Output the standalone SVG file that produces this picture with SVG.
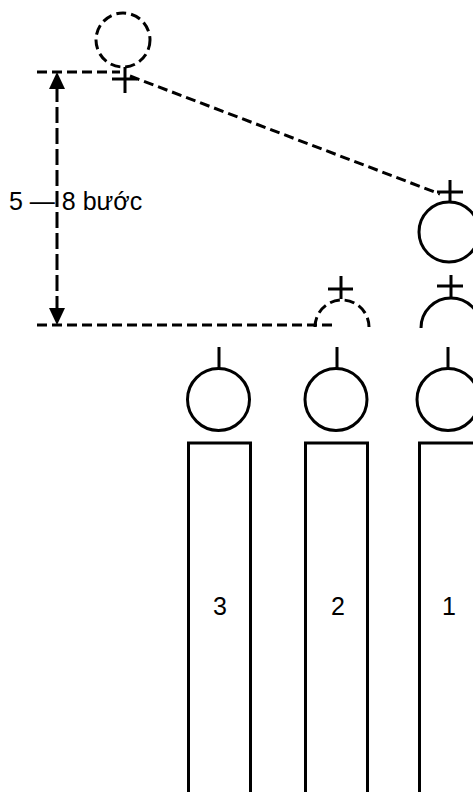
<svg xmlns="http://www.w3.org/2000/svg" width="473" height="792" viewBox="0 0 473 792">
<defs>
<style>
.s{fill:none;stroke:#000;stroke-width:3}
.d{fill:none;stroke:#000;stroke-width:3;stroke-dasharray:10 5}
.dv{fill:none;stroke:#000;stroke-width:3;stroke-dasharray:16 5}
.t{font-family:"Liberation Sans",Arial,sans-serif;font-size:25px;fill:#000}
</style>
</defs>
<rect width="473" height="792" fill="#fff"/>
<g id="connectors">
<line class="d" x1="37" y1="72" x2="120" y2="72"/>
<line class="d" x1="37" y1="325" x2="333" y2="325"/>
<line class="d" x1="130" y1="76" x2="440" y2="194"/>
<line class="dv" x1="57" y1="86" x2="57" y2="310"/>
<polygon points="57,72 49,89 65,89" fill="#000"/>
<polygon points="57,325 49,308 65,308" fill="#000"/>
</g>
<g id="label">
<text class="t" x="9" y="210">5 — 8 bước</text>
</g>
<g id="figure-top">
<circle class="d" cx="123" cy="40" r="27"/>
<line class="s" x1="125" y1="67" x2="125" y2="93"/>
<line class="s" x1="112" y1="79" x2="137" y2="79"/>
</g>
<g id="figure-1a">
<circle class="s" cx="449" cy="232" r="30"/>
<line class="s" x1="450" y1="180" x2="450" y2="202"/>
<line class="s" x1="437" y1="192" x2="463" y2="192"/>
</g>
<g id="figure-1b">
<path class="s" d="M421,328 A30,30 0 0 1 481,328"/>
<line class="s" x1="451" y1="275" x2="451" y2="298"/>
<line class="s" x1="437" y1="286" x2="463" y2="286"/>
</g>
<g id="figure-2b">
<path class="d" d="M315,327 A27,27 0 0 1 369,327"/>
<line class="s" x1="341" y1="276" x2="341" y2="299"/>
<line class="s" x1="328" y1="289" x2="353" y2="289"/>
</g>
<g id="figure-3">
<line class="s" x1="219" y1="347" x2="219" y2="368"/>
<circle class="s" cx="218.5" cy="399.5" r="31"/>
</g>
<g id="figure-2">
<line class="s" x1="337" y1="347" x2="337" y2="368"/>
<circle class="s" cx="336" cy="399.5" r="31"/>
</g>
<g id="figure-1">
<line class="s" x1="448" y1="347" x2="448" y2="368"/>
<circle class="s" cx="448" cy="399.5" r="31"/>
</g>
<g id="lane-3">
<rect class="s" x="188.5" y="443" width="62" height="360"/>
<text class="t" x="220" y="615" text-anchor="middle">3</text>
</g>
<g id="lane-2">
<rect class="s" x="305.5" y="443" width="62" height="360"/>
<text class="t" x="338" y="615" text-anchor="middle">2</text>
</g>
<g id="lane-1">
<rect class="s" x="419.5" y="443" width="62" height="360"/>
<text class="t" x="449" y="615" text-anchor="middle">1</text>
</g>
</svg>
